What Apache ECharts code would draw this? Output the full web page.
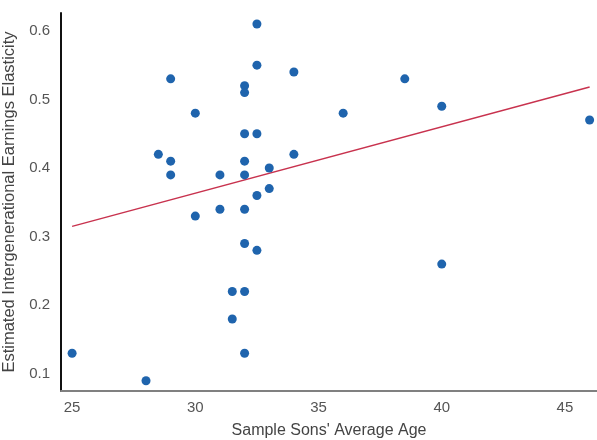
<!DOCTYPE html>
<html><head><meta charset="utf-8">
<script src="https://cdn.jsdelivr.net/npm/echarts@6/dist/echarts.min.js"></script>
<style>html,body{margin:0;padding:0;background:#fff}#c{width:597px;height:440px}</style>
</head><body><div id="c"></div>
<script>
const ages = [25,28,28.5,29,29,29,30,30,31,31,31.5,31.5,32,32,32,32,32,32,32,32,32,32.5,32.5,32.5,32.5,32.5,33,33,34,34,36,38.5,40,40,46];
const elasticities = [0.13,0.09,0.42,0.53,0.41,0.39,0.48,0.33,0.39,0.34,0.22,0.18,0.52,0.51,0.45,0.41,0.39,0.34,0.29,0.22,0.13,0.61,0.55,0.45,0.36,0.28,0.40,0.37,0.54,0.42,0.48,0.53,0.49,0.26,0.47];
const fitAges = [25,46];
const fitValues = [0.315,0.518];
const xTicks = [25,30,35,40,45];
const yTicks = [0.1,0.2,0.3,0.4,0.5,0.6];

const chart = echarts.init(document.getElementById('c'));
chart.setOption({
  animation:false,
  grid:{left:61,right:0,top:13,bottom:49,outerBoundsMode:'none',containLabel:false},
  xAxis:{type:'value',min:24.55,max:46.3,
    name:"Sample Sons' Average Age",nameLocation:'middle',nameGap:32,
    nameTextStyle:{color:'#444',fontSize:16,fontFamily:'Liberation Sans'},
    axisLine:{show:true,lineStyle:{color:'#808080',width:2}},
    axisTick:{show:false},splitLine:{show:false},
    axisLabel:{color:'#555',fontSize:15,fontFamily:'Liberation Sans',margin:9,
      customValues:xTicks,formatter:v=>String(v)}},
  yAxis:{type:'value',min:0.075,max:0.626,
    name:'Estimated Intergenerational Earnings Elasticity',nameLocation:'middle',nameGap:42,
    nameTextStyle:{color:'#444',fontSize:16.5,fontFamily:'Liberation Sans'},
    axisLine:{show:true,lineStyle:{color:'#111',width:2}},
    axisTick:{show:false},splitLine:{show:false},
    axisLabel:{color:'#555',fontSize:15,fontFamily:'Liberation Sans',margin:11,
      customValues:yTicks,formatter:v=>v.toFixed(1)}},
  series:[
    {type:'line',data:fitAges.map((a,i)=>[a,fitValues[i]]),symbol:'none',
      lineStyle:{color:'#c8324e',width:1.5},z:1},
    {type:'scatter',data:ages.map((a,i)=>[a,elasticities[i]]),symbolSize:9,
      itemStyle:{color:'#1f64ad',opacity:1},z:2}
  ]
});
</script></body></html>
